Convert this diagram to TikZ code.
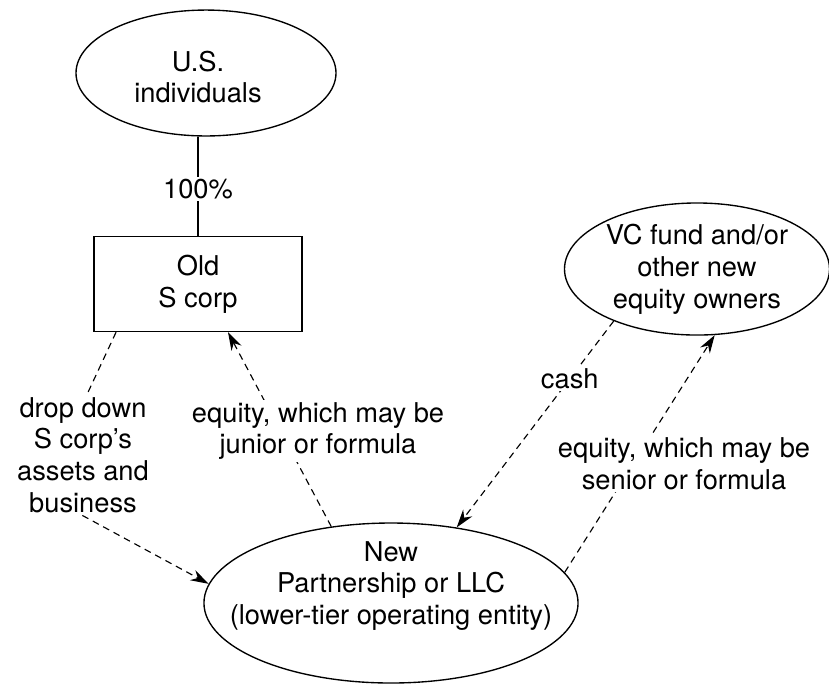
\documentclass[tikz,border=0pt]{standalone}
\usepackage{fontspec}
\setmainfont{TeX Gyre Heros}
\usetikzlibrary{arrows.meta, calc, positioning, shapes.geometric}

\begin{document}
\begin{tikzpicture}[x=0.44pt, y=-0.44pt, % one unit = one step of the grid
          > = {Stealth[length=8pt, width=5pt]},
every node/.style = {font=\fontsize{12}{14}\selectfont, align=center},
  party/.style = {ellipse, draw, line width=0.6pt, inner sep=0pt},
   corp/.style = {rectangle, draw, line width=0.6pt,
                  minimum width=91.5pt, minimum height=41.8pt},
   flow/.style = {dash pattern=on 3pt off 2.2pt, line width=0.5pt},
    lbl/.style = {fill=white, inner sep=1pt}
                    ]
	\useasboundingbox (0,0) rectangle (829,685);

	% owners and entities
	\node[party, minimum width=114.4pt, minimum height=55.4pt] (us) at (206,73) {};
	\node (us text) at (198,77) {U.S.\\individuals};
	\node[corp] (oldS) at (198,284) {Old\\S corp};
	\node[party, minimum width=116.6pt, minimum height=58.1pt] (vc) at (697,269)
		{VC fund and/or\\other new\\equity owners};
	\node[party, minimum width=164.6pt, minimum height=70.4pt] (llc) at (391,603) {};
	\node (llc text) at (391,586) {New\\Partnership or LLC\\(lower-tier operating entity)};

	% ownership
	\draw[line width=0.6pt] (oldS.north) -- (oldS.north |- us.south)
		node[lbl, pos=0.47] (pct) {100\%};

	% drop down of the business
	\coordinate (bend) at (41,493);
	\draw[flow, ->] ([xshift=10pt]oldS.south west) -- (bend) -- (llc.174);
	\node[lbl] (drop) at (83,455) {drop down\\S corp's\\assets and\\business};

	% equity back to the old corp
	\draw[flow, ->] (llc.128) -- ([xshift=13.2pt]oldS.south);
	\node[lbl] (junior) at (318,431) {equity, which may be\\junior or formula};

	% new money in
	\draw[flow, ->] (vc.212) -- (llc.49) node[lbl, pos=0.28] (cash) {cash};
	\draw[flow, ->] (llc.10) -- (vc.285);
	\node[lbl] (senior) at (684,464) {equity, which may be\\senior or formula};

\end{tikzpicture}
\end{document}
